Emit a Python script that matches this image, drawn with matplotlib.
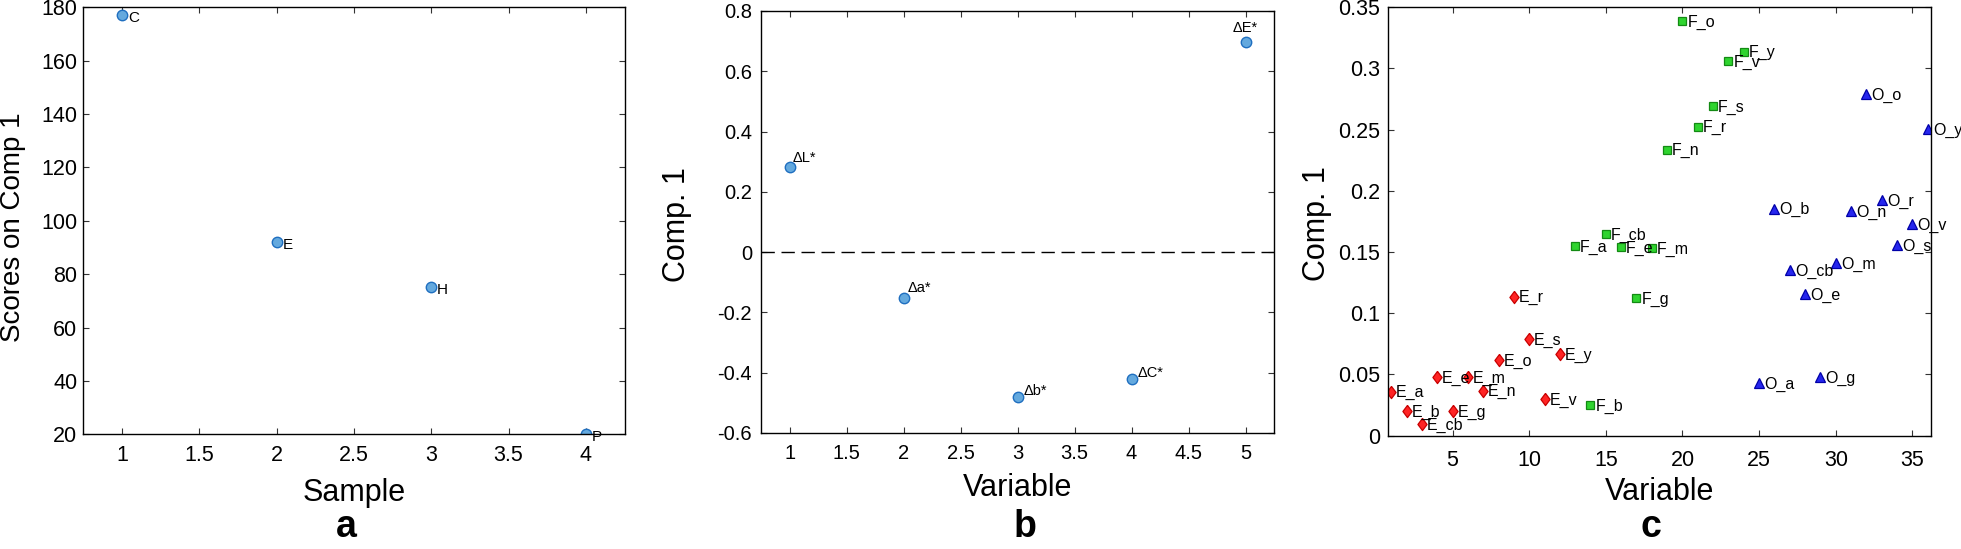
import numpy as np
import matplotlib
matplotlib.use('Agg')
from matplotlib import pyplot as plt
from matplotlib.ticker import FuncFormatter

plt.rcParams['font.family'] = ['Liberation Sans', 'DejaVu Sans']
plt.rcParams['axes.unicode_minus'] = False

# panel a: scores of the samples on comp 1
sample_names = ['C', 'E', 'H', 'P']
sample_idx = [1, 2, 3, 4]
sample_scores = [177.2, 92.1, 75.2, 20.3]

# panel b: loadings of the colour variables
color_vars = ['\u0394L*', '\u0394a*', '\u0394b*', '\u0394C*', '\u0394E*']
color_idx = [1, 2, 3, 4, 5]
color_load = [0.281, -0.152, -0.482, -0.422, 0.698]

# panel c: loadings of the 36 variables (E, F, O groups)
e_names = ['E_a', 'E_b', 'E_cb', 'E_e', 'E_g', 'E_m', 'E_n', 'E_o', 'E_r', 'E_s', 'E_v', 'E_y']
e_idx = list(range(1, 13))
e_load = [0.036, 0.0202, 0.0093, 0.0477, 0.0202, 0.0477, 0.0368, 0.0619, 0.1136, 0.0787, 0.0297, 0.0668]

f_names = ['F_a', 'F_b', 'F_cb', 'F_e', 'F_g', 'F_m', 'F_n', 'F_o', 'F_r', 'F_s', 'F_v', 'F_y']
f_idx = list(range(13, 25))
f_load = [0.1552, 0.0251, 0.1644, 0.1538, 0.1123, 0.1533, 0.2338, 0.339, 0.2526, 0.2695, 0.3062, 0.3138]

o_names = ['O_a', 'O_b', 'O_cb', 'O_e', 'O_g', 'O_m', 'O_n', 'O_o', 'O_r', 'O_s', 'O_v', 'O_y']
o_idx = list(range(25, 37))
o_load = [0.0428, 0.1856, 0.1356, 0.1158, 0.0482, 0.141, 0.1837, 0.279, 0.1927, 0.156, 0.1731, 0.2507]

fmt = FuncFormatter(lambda v, p: '%g' % round(v, 6))


def style(ax, size, xpad, ypad):
    ax.tick_params(direction='in', top=True, right=True, length=4.5, width=0.8,
                   labelsize=size, color='#333333')
    ax.tick_params(axis='x', pad=xpad)
    ax.tick_params(axis='y', pad=ypad)
    for s in ax.spines.values():
        s.set_linewidth(1.0)
    ax.xaxis.set_major_formatter(fmt)
    ax.yaxis.set_major_formatter(fmt)


fig = plt.figure(figsize=(19.61, 5.49), dpi=100)

# ---- a ----
ax1 = fig.add_axes([0.04248, 0.2089, 0.2760, 0.7778])
ax1.plot(sample_idx, sample_scores, 'o', ms=7.5, mfc='#64a9de', mec='#1f6fc0', mew=1.0)
for x, y, t in zip(sample_idx, sample_scores, sample_names):
    ax1.annotate(t, (x, y), xytext=(4.3, -5.3), textcoords='offset points',
                 ha='left', va='baseline', fontsize=11)
ax1.set_xlim(0.75, 4.25)
ax1.set_ylim(20, 180)
ax1.set_xticks(np.arange(1, 4.01, 0.5))
ax1.set_yticks(np.arange(20, 181, 20))
style(ax1, 15.5, 8, 4.3)
ax1.set_xlabel('Sample', fontsize=22, va='top')
ax1.xaxis.set_label_coords(0.5, -0.1023)
ax1.set_ylabel('Scores on Comp 1', fontsize=20)
ax1.yaxis.set_label_coords(-0.1065, 0.484)

# ---- b ----
ax2 = fig.add_axes([0.3881, 0.2113, 0.2616, 0.7687])
ax2.axhline(0, color='k', lw=1.0, dashes=(9.6, 4.8))
ax2.plot(color_idx, color_load, 'o', ms=7.5, mfc='#64a9de', mec='#1f6fc0', mew=1.0)
b_offsets = [(2.1, 3.8), (3, 4.3), (4.5, 1.5), (4.5, 1.5), (0, 7)]
for x, y, t, off in zip(color_idx, color_load, color_vars, b_offsets):
    ax2.annotate(t, (x, y), xytext=off, textcoords='offset points',
                 ha='center' if off[0] == 0 else 'left', va='baseline', fontsize=10.5)
ax2.set_xlim(0.75, 5.25)
ax2.set_ylim(-0.6, 0.8)
ax2.set_xticks(np.round(np.arange(1, 5.01, 0.5), 2))
ax2.set_yticks(np.round(np.arange(-0.6, 0.81, 0.2), 2))
style(ax2, 14.5, 8, 6.5)
ax2.set_xlabel('Variable', fontsize=22, va='top')
ax2.xaxis.set_label_coords(0.5, -0.0957)
ax2.set_ylabel('Comp. 1', fontsize=22)
ax2.yaxis.set_label_coords(-0.1353, 0.495)

# ---- c ----
ax3 = fig.add_axes([0.7077, 0.2064, 0.2771, 0.7803])
diamond = [(0, 1), (0.75, 0), (0, -1), (-0.75, 0), (0, 1)]
groups = [
    (e_idx, e_load, e_names, diamond, 8.8, '#ff2424', '#c80000'),
    (f_idx, f_load, f_names, 's', 5.5, '#2fd42f', '#138a13'),
    (o_idx, o_load, o_names, '^', 7.5, '#2626ee', '#0000a8'),
]
for idx, load, names, mk, ms, fc, ec in groups:
    ax3.plot(idx, load, linestyle='none', marker=mk, ms=ms, mfc=fc, mec=ec, mew=0.9)
    for x, y, t in zip(idx, load, names):
        ax3.annotate(t, (x, y), xytext=(3.6, -4.1), textcoords='offset points',
                     ha='left', va='baseline', fontsize=11.5)
ax3.set_xlim(0.78, 36.22)
ax3.set_ylim(0, 0.35)
ax3.set_xticks(np.arange(5, 36, 5))
ax3.set_yticks(np.round(np.arange(0, 0.351, 0.05), 2))
style(ax3, 15.5, 10, 5.5)
ax3.set_xlabel('Variable', fontsize=22, va='top')
ax3.xaxis.set_label_coords(0.5, -0.0957)
ax3.set_ylabel('Comp. 1', fontsize=22)
ax3.yaxis.set_label_coords(-0.103, 0.4956)

# panel letters
for xp, letter in zip([346, 1025, 1651], ['a', 'b', 'c']):
    fig.text(xp / 1961, 0.021, letter, ha='center', va='baseline',
             fontsize=27, fontweight='bold')

fig.savefig('out.png', dpi=100)
